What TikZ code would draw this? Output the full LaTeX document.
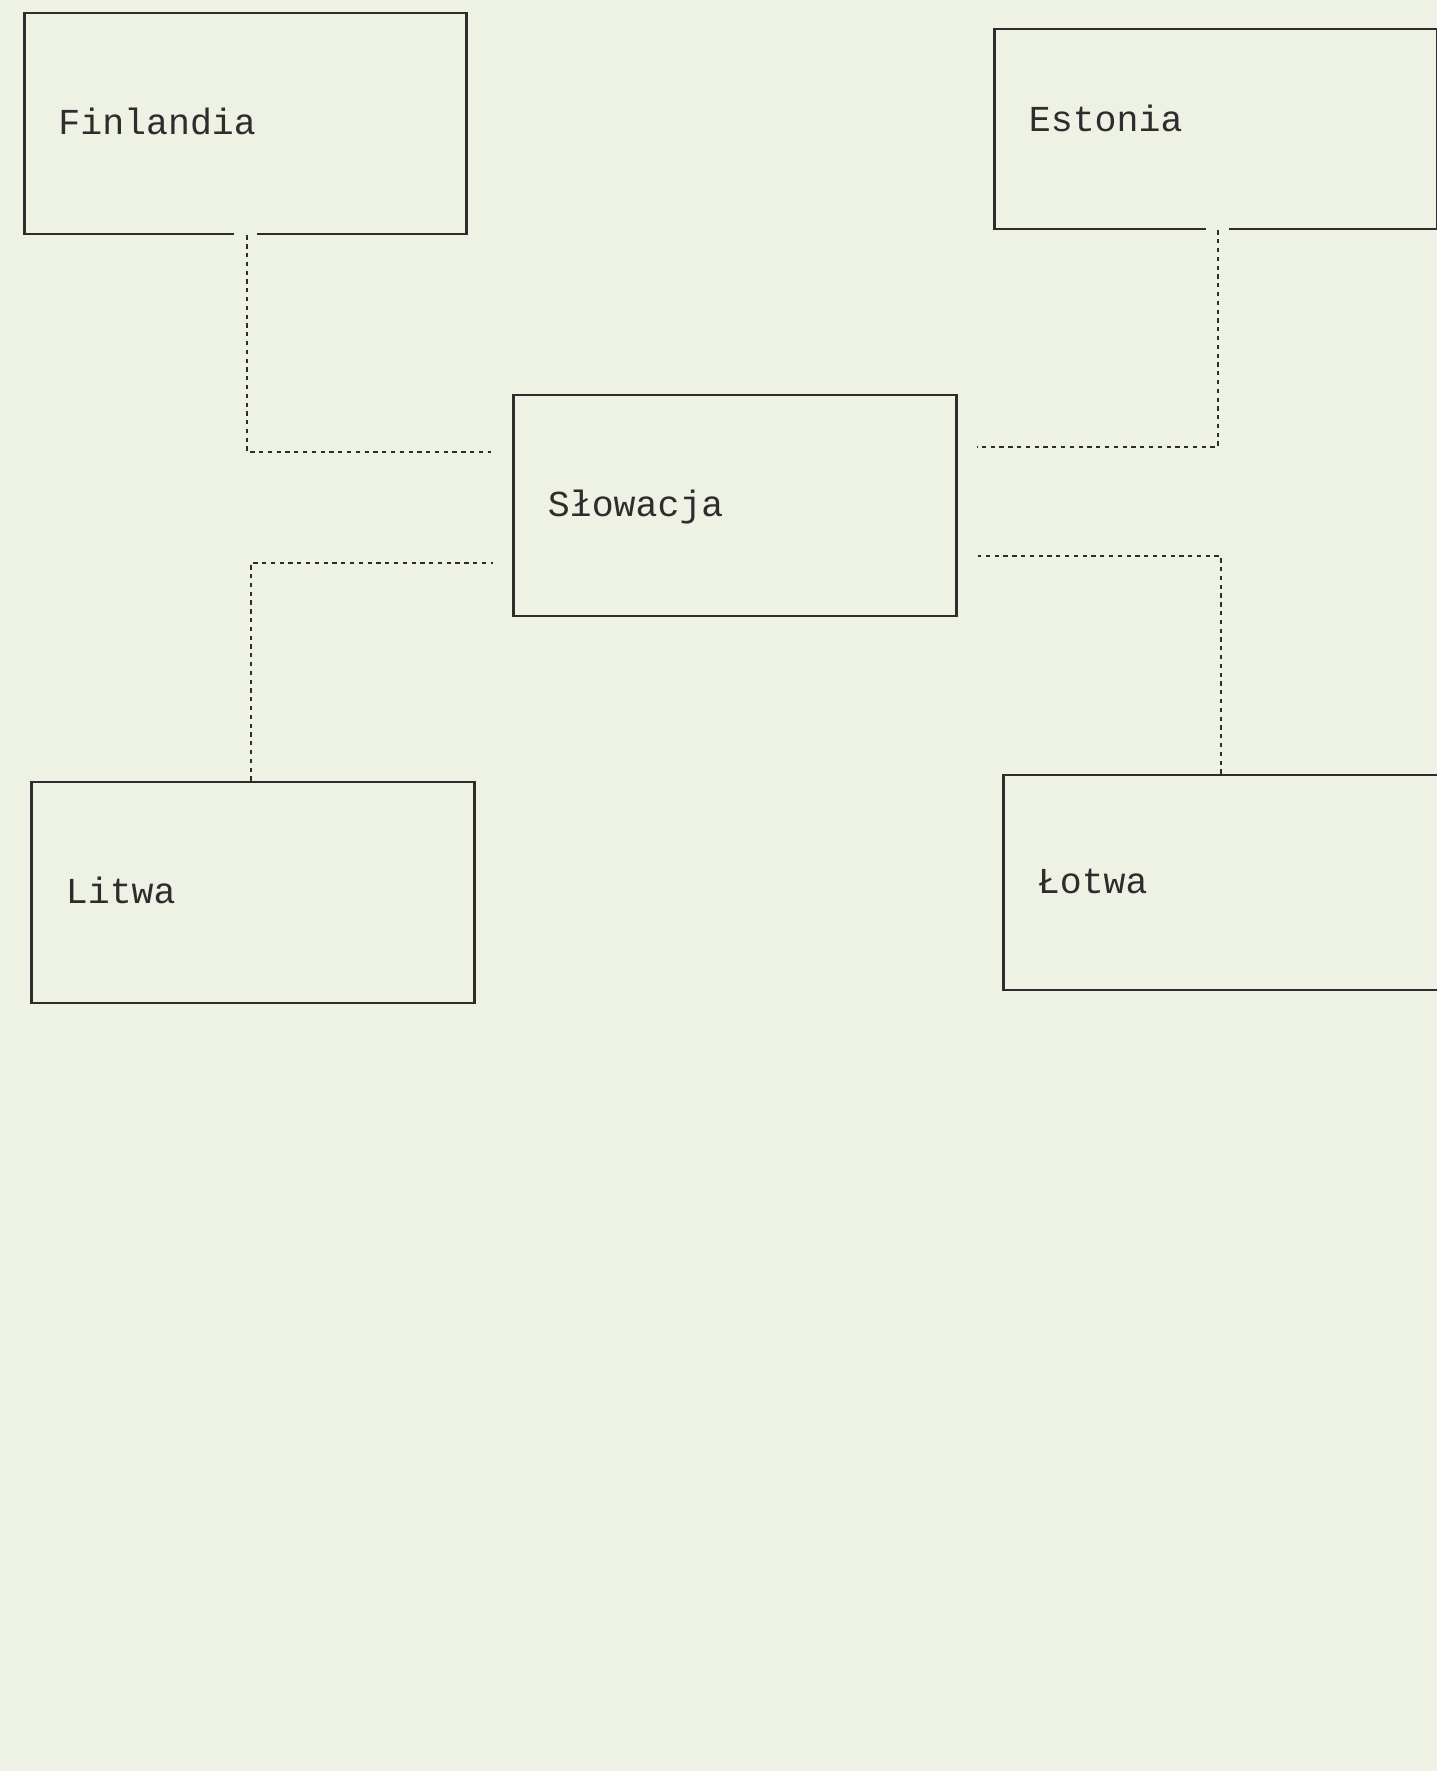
\documentclass[tikz,border=0pt]{standalone}
\usepackage{fontspec}
\setmonofont{Liberation Mono}
\definecolor{paper}{RGB}{238,242,229}
\definecolor{ink}{RGB}{45,45,45}
\tikzset{
  country/.style={draw=ink, line width=0.8pt, text=ink,
    minimum width=4.42cm, minimum height=2.21cm,
    inner xsep=0.34cm, text width=3.74cm, align=left,
    text height=0.6em, text depth=0pt,
    font=\ttfamily\fontsize{10.4}{12}\selectfont},
  border/.style={draw=ink, line width=0.8pt, dash pattern=on 1.2pt off 1.3pt},
  notch/.style={draw=paper, line width=2pt}
}

\begin{document}
\begin{tikzpicture}[x=0.01cm, y=-0.01cm]
  \fill[paper] (0,0) rectangle (1437,1771);
  \useasboundingbox (0,0) rectangle (1437,1771);

  % Countries
  \node[country] (fin) at (245.5,123.5) {Finlandia};
  \node[country, minimum height=2cm, text depth=0.16cm] (est) at (1216,129) {Estonia};
  \node[country] (slo) at (735,505.5) {Słowacja};
  \node[country] (lit) at (253,892.5) {Litwa};
  \node[country, minimum height=2.15cm] (lot) at (1225,882.5) {Łotwa};

  % Breaks in the box edges
  \draw[notch] ([xshift=-0.11cm]fin.south) -- ([xshift=0.11cm]fin.south);
  \draw[notch] ([xshift=-0.1cm]est.south) -- ([xshift=0.13cm]est.south);

  % Borders with Slovakia
  \draw[border] ([xshift=0.015cm]fin.south) |- ([xshift=-0.21cm,yshift=0.535cm]slo.west);
  \draw[border] ([xshift=-0.02cm]lit.north) |- ([xshift=-0.19cm,yshift=-0.575cm]slo.west);
  \draw[border] ([xshift=0.02cm]est.south) |- ([xshift=0.19cm,yshift=0.585cm]slo.east);
  \draw[border] ([xshift=-0.04cm]lot.north) |- ([xshift=0.2cm,yshift=-0.505cm]slo.east);
\end{tikzpicture}
\end{document}
